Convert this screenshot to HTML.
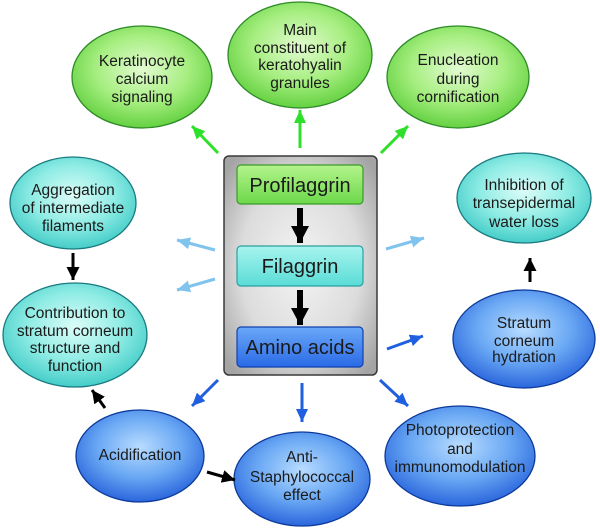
<!DOCTYPE html>
<html><head><meta charset="utf-8"><style>
html,body{margin:0;padding:0;background:#fff;}
svg{display:block;}
text{font-family:"Liberation Sans",Arial,sans-serif;fill:#1a1a1a;text-anchor:middle;}
.t{font-size:15.5px;}
.b{font-size:20px;}
</style></head><body>
<svg width="600" height="531" viewBox="0 0 600 531" xmlns="http://www.w3.org/2000/svg">
<defs>
<radialGradient id="gG" cx="50%" cy="42%" r="60%">
<stop offset="0" stop-color="#e2fbd0"/><stop offset="0.55" stop-color="#a6ee80"/><stop offset="1" stop-color="#5fcf3c"/>
</radialGradient>
<radialGradient id="gC" cx="50%" cy="42%" r="60%">
<stop offset="0" stop-color="#dcfcf8"/><stop offset="0.55" stop-color="#8eece4"/><stop offset="1" stop-color="#3fcac6"/>
</radialGradient>
<radialGradient id="gB" cx="50%" cy="40%" r="60%">
<stop offset="0" stop-color="#b8dcff"/><stop offset="0.55" stop-color="#6aa8f4"/><stop offset="1" stop-color="#2a66dc"/>
</radialGradient>
<radialGradient id="gGray" cx="50%" cy="50%" r="65%">
<stop offset="0" stop-color="#f4f4f4"/><stop offset="0.6" stop-color="#dcdcdc"/><stop offset="1" stop-color="#a4a4a4"/>
</radialGradient>
<linearGradient id="bG" x1="0" y1="0" x2="0" y2="1"><stop offset="0" stop-color="#b4f48c"/><stop offset="1" stop-color="#6cd84a"/></linearGradient>
<linearGradient id="bC" x1="0" y1="0" x2="0" y2="1"><stop offset="0" stop-color="#a8f4ee"/><stop offset="1" stop-color="#5adcd6"/></linearGradient>
<linearGradient id="bB" x1="0" y1="0" x2="0" y2="1"><stop offset="0" stop-color="#6aa8f8"/><stop offset="1" stop-color="#2a6ae6"/></linearGradient>
<marker id="mG" markerUnits="userSpaceOnUse" markerWidth="13" markerHeight="12" viewBox="0 0 13 12" refX="13" refY="6" orient="auto"><path d="M0,0 L13,6 L0,12 z" fill="#2ee02a"/></marker>
<marker id="mL" markerUnits="userSpaceOnUse" markerWidth="13" markerHeight="12" viewBox="0 0 13 12" refX="13" refY="6" orient="auto"><path d="M0,0 L13,6 L0,12 z" fill="#80c4ee"/></marker>
<marker id="mB" markerUnits="userSpaceOnUse" markerWidth="13" markerHeight="12" viewBox="0 0 13 12" refX="13" refY="6" orient="auto"><path d="M0,0 L13,6 L0,12 z" fill="#1f5fe0"/></marker>
<marker id="mK" markerUnits="userSpaceOnUse" markerWidth="13" markerHeight="13" viewBox="0 0 13 13" refX="13" refY="6.5" orient="auto"><path d="M0,0 L13,6.5 L0,13 z" fill="#000"/></marker>
<marker id="mKK" markerUnits="userSpaceOnUse" markerWidth="17" markerHeight="18" viewBox="0 0 17 18" refX="17" refY="9" orient="auto"><path d="M0,0 L17,9 L0,18 z" fill="#000"/></marker>
</defs>

<!-- green ellipses -->
<ellipse cx="142" cy="77" rx="70" ry="51" fill="url(#gG)" stroke="#2e8a28" stroke-width="1.3"/>
<ellipse cx="300" cy="55" rx="72" ry="53" fill="url(#gG)" stroke="#2e8a28" stroke-width="1.3"/>
<ellipse cx="458" cy="77" rx="71" ry="51" fill="url(#gG)" stroke="#2e8a28" stroke-width="1.3"/>
<!-- cyan ellipses -->
<ellipse cx="73" cy="203" rx="63" ry="46" fill="url(#gC)" stroke="#1a7a80" stroke-width="1.3"/>
<ellipse cx="524" cy="198" rx="67" ry="45" fill="url(#gC)" stroke="#1a7a80" stroke-width="1.3"/>
<ellipse cx="75" cy="335" rx="72" ry="52" fill="url(#gC)" stroke="#1a7a80" stroke-width="1.3"/>
<!-- blue ellipses -->
<ellipse cx="524" cy="339" rx="71" ry="49" fill="url(#gB)" stroke="#0c3a9a" stroke-width="1.3"/>
<ellipse cx="140" cy="456" rx="64" ry="46" fill="url(#gB)" stroke="#0c3a9a" stroke-width="1.3"/>
<ellipse cx="302" cy="479" rx="68" ry="47" fill="url(#gB)" stroke="#0c3a9a" stroke-width="1.3"/>
<ellipse cx="460" cy="456" rx="75" ry="50" fill="url(#gB)" stroke="#0c3a9a" stroke-width="1.3"/>

<!-- center box -->
<rect x="224" y="156" width="153" height="219" rx="5" fill="url(#gGray)" stroke="#3a3a3a" stroke-width="1.5"/>
<rect x="237" y="165" width="126" height="39" rx="4" fill="url(#bG)" stroke="#3a9a2a" stroke-width="1.2"/>
<rect x="237" y="246" width="126" height="40" rx="4" fill="url(#bC)" stroke="#2aa0a0" stroke-width="1.2"/>
<rect x="237" y="327" width="126" height="40" rx="4" fill="url(#bB)" stroke="#1040b0" stroke-width="1.2"/>
<text class="b" x="300" y="192">Profilaggrin</text>
<text class="b" x="300" y="273">Filaggrin</text>
<text class="b" x="300" y="354">Amino acids</text>
<line x1="300" y1="208" x2="300" y2="243" stroke="#000" stroke-width="6" marker-end="url(#mKK)"/>
<line x1="300" y1="290" x2="300" y2="325" stroke="#000" stroke-width="6" marker-end="url(#mKK)"/>

<!-- green arrows -->
<line x1="218" y1="153" x2="192" y2="126" stroke="#2ee02a" stroke-width="3" marker-end="url(#mG)"/>
<line x1="300" y1="148" x2="300" y2="110" stroke="#2ee02a" stroke-width="3" marker-end="url(#mG)"/>
<line x1="381" y1="153" x2="408" y2="126" stroke="#2ee02a" stroke-width="3" marker-end="url(#mG)"/>
<!-- light blue arrows -->
<line x1="215" y1="250" x2="177" y2="240" stroke="#80c4ee" stroke-width="3" marker-end="url(#mL)"/>
<line x1="215" y1="279" x2="177" y2="290" stroke="#80c4ee" stroke-width="3" marker-end="url(#mL)"/>
<line x1="386" y1="249" x2="424" y2="238" stroke="#80c4ee" stroke-width="3" marker-end="url(#mL)"/>
<!-- blue arrows -->
<line x1="218" y1="380" x2="192" y2="406" stroke="#1f5fe0" stroke-width="3" marker-end="url(#mB)"/>
<line x1="302" y1="383" x2="302" y2="422" stroke="#1f5fe0" stroke-width="3" marker-end="url(#mB)"/>
<line x1="387" y1="349" x2="423" y2="336" stroke="#1f5fe0" stroke-width="3" marker-end="url(#mB)"/>
<line x1="380" y1="380" x2="408" y2="406" stroke="#1f5fe0" stroke-width="3" marker-end="url(#mB)"/>
<!-- black arrows -->
<line x1="73" y1="253" x2="73" y2="280" stroke="#000" stroke-width="3" marker-end="url(#mK)"/>
<line x1="105" y1="408" x2="92" y2="390" stroke="#000" stroke-width="3" marker-end="url(#mK)"/>
<line x1="207" y1="472" x2="235" y2="480" stroke="#000" stroke-width="3" marker-end="url(#mK)"/>
<line x1="530" y1="282" x2="530" y2="258" stroke="#000" stroke-width="3" marker-end="url(#mK)"/>

<!-- labels -->
<text class="t" x="142" y="66">Keratinocyte</text>
<text class="t" x="142" y="84">calcium</text>
<text class="t" x="142" y="102">signaling</text>

<text class="t" x="300" y="35">Main</text>
<text class="t" x="300" y="53">constituent of</text>
<text class="t" x="300" y="70">keratohyalin</text>
<text class="t" x="300" y="88">granules</text>

<text class="t" x="458" y="65">Enucleation</text>
<text class="t" x="458" y="84">during</text>
<text class="t" x="458" y="102">cornification</text>

<text class="t" x="73" y="195">Aggregation</text>
<text class="t" x="73" y="213">of intermediate</text>
<text class="t" x="73" y="231">filaments</text>

<text class="t" x="524" y="190">Inhibition of</text>
<text class="t" x="524" y="208">transepidermal</text>
<text class="t" x="524" y="227">water loss</text>

<text class="t" x="75" y="318">Contribution to</text>
<text class="t" x="75" y="336">stratum corneum</text>
<text class="t" x="75" y="353">structure and</text>
<text class="t" x="75" y="371">function</text>

<text class="t" x="524" y="328">Stratum</text>
<text class="t" x="524" y="346">corneum</text>
<text class="t" x="524" y="362">hydration</text>

<text class="t" x="140" y="460">Acidification</text>

<text class="t" x="302" y="462">Anti-</text>
<text class="t" x="302" y="482">Staphylococcal</text>
<text class="t" x="302" y="500">effect</text>

<text class="t" x="460" y="435">Photoprotection</text>
<text class="t" x="460" y="454">and</text>
<text class="t" x="460" y="472">immunomodulation</text>
</svg>
</body></html>
